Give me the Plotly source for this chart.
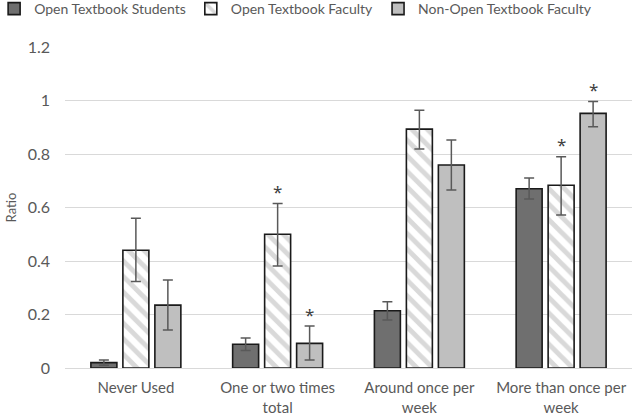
import plotly.graph_objects as go

categories = ["Never Used", "One or two times<br>total", "Around once per<br>week", "More than once per<br>week"]

students = [0.02, 0.089, 0.214, 0.67]
students_hi = [0.03, 0.112, 0.248, 0.71]
students_lo = [0.01, 0.065, 0.179, 0.632]

faculty = [0.44, 0.50, 0.893, 0.683]
faculty_hi = [0.56, 0.615, 0.964, 0.79]
faculty_lo = [0.323, 0.381, 0.819, 0.572]

nonopen = [0.235, 0.092, 0.759, 0.952]
nonopen_hi = [0.329, 0.157, 0.852, 0.996]
nonopen_lo = [0.142, 0.03, 0.665, 0.902]

# significance markers: (category index, series index)
stars = [(1, 1), (1, 2), (3, 1), (3, 2)]

series = [
    ("Open Textbook Students", students, students_hi, students_lo, dict(color="#6f6f6f")),
    ("Open Textbook Faculty", faculty, faculty_hi, faculty_lo,
     dict(color="white", pattern=dict(shape="\\", fgcolor="#b4b4b4", bgcolor="white", size=11, solidity=0.45))),
    ("Non-Open Textbook Faculty", nonopen, nonopen_hi, nonopen_lo, dict(color="#bfbfbf")),
]

FONT = "Lato"

fig = go.Figure()
for name, vals, hi, lo, mk in series:
    mk = dict(mk)
    mk["line"] = dict(color="#1a1a1a", width=1.6)
    fig.add_trace(go.Bar(
        name=name, x=categories, y=vals, marker=mk,
        error_y=dict(type="data", symmetric=False,
                     array=[h - v for h, v in zip(hi, vals)],
                     arrayminus=[v - l for v, l in zip(vals, lo)],
                     color="#595959", thickness=1.5, width=5),
    ))

his = [students_hi, faculty_hi, nonopen_hi]
shifts = [-32, 0, 32]
for ci, si in stars:
    fig.add_annotation(x=categories[ci], y=his[si][ci], text="*", showarrow=False,
                       xshift=shifts[si], yshift=12,
                       font=dict(size=17, color="#404040", family="Noto Sans"))

fig.update_layout(
    width=632, height=418,
    margin=dict(l=65, r=0, t=47, b=50, autoexpand=False),
    paper_bgcolor="white", plot_bgcolor="white",
    barmode="group", bargap=0.323, bargroupgap=0.1875,
    font=dict(family=FONT, size=15, color="#595959"),
    legend=dict(orientation="h", x=-0.125, y=1.168, xref="paper", yref="paper",
                xanchor="left", yanchor="top", font=dict(size=14, color="#595959", family=FONT),
                itemwidth=30, traceorder="normal"),
    showlegend=True,
)
fig.update_yaxes(range=[0, 1.2], dtick=0.2, tickformat="~g", showgrid=True, gridcolor="#d9d9d9",
                 gridwidth=1, zeroline=True, zerolinecolor="#d9d9d9", zerolinewidth=1,
                 title=dict(text="Ratio", font=dict(size=13, color="#595959"), standoff=8),
                 ticks="", showline=False, tickfont=dict(size=16), automargin=False,
                 ticklabelstandoff=14)
fig.update_xaxes(showline=False, ticks="", tickfont=dict(size=15, color="#595959"), automargin=False,
                 ticklabelstandoff=9)

fig.write_html("out.html", post_script="document.body.style.margin='0';",
               config={"displayModeBar": False})
